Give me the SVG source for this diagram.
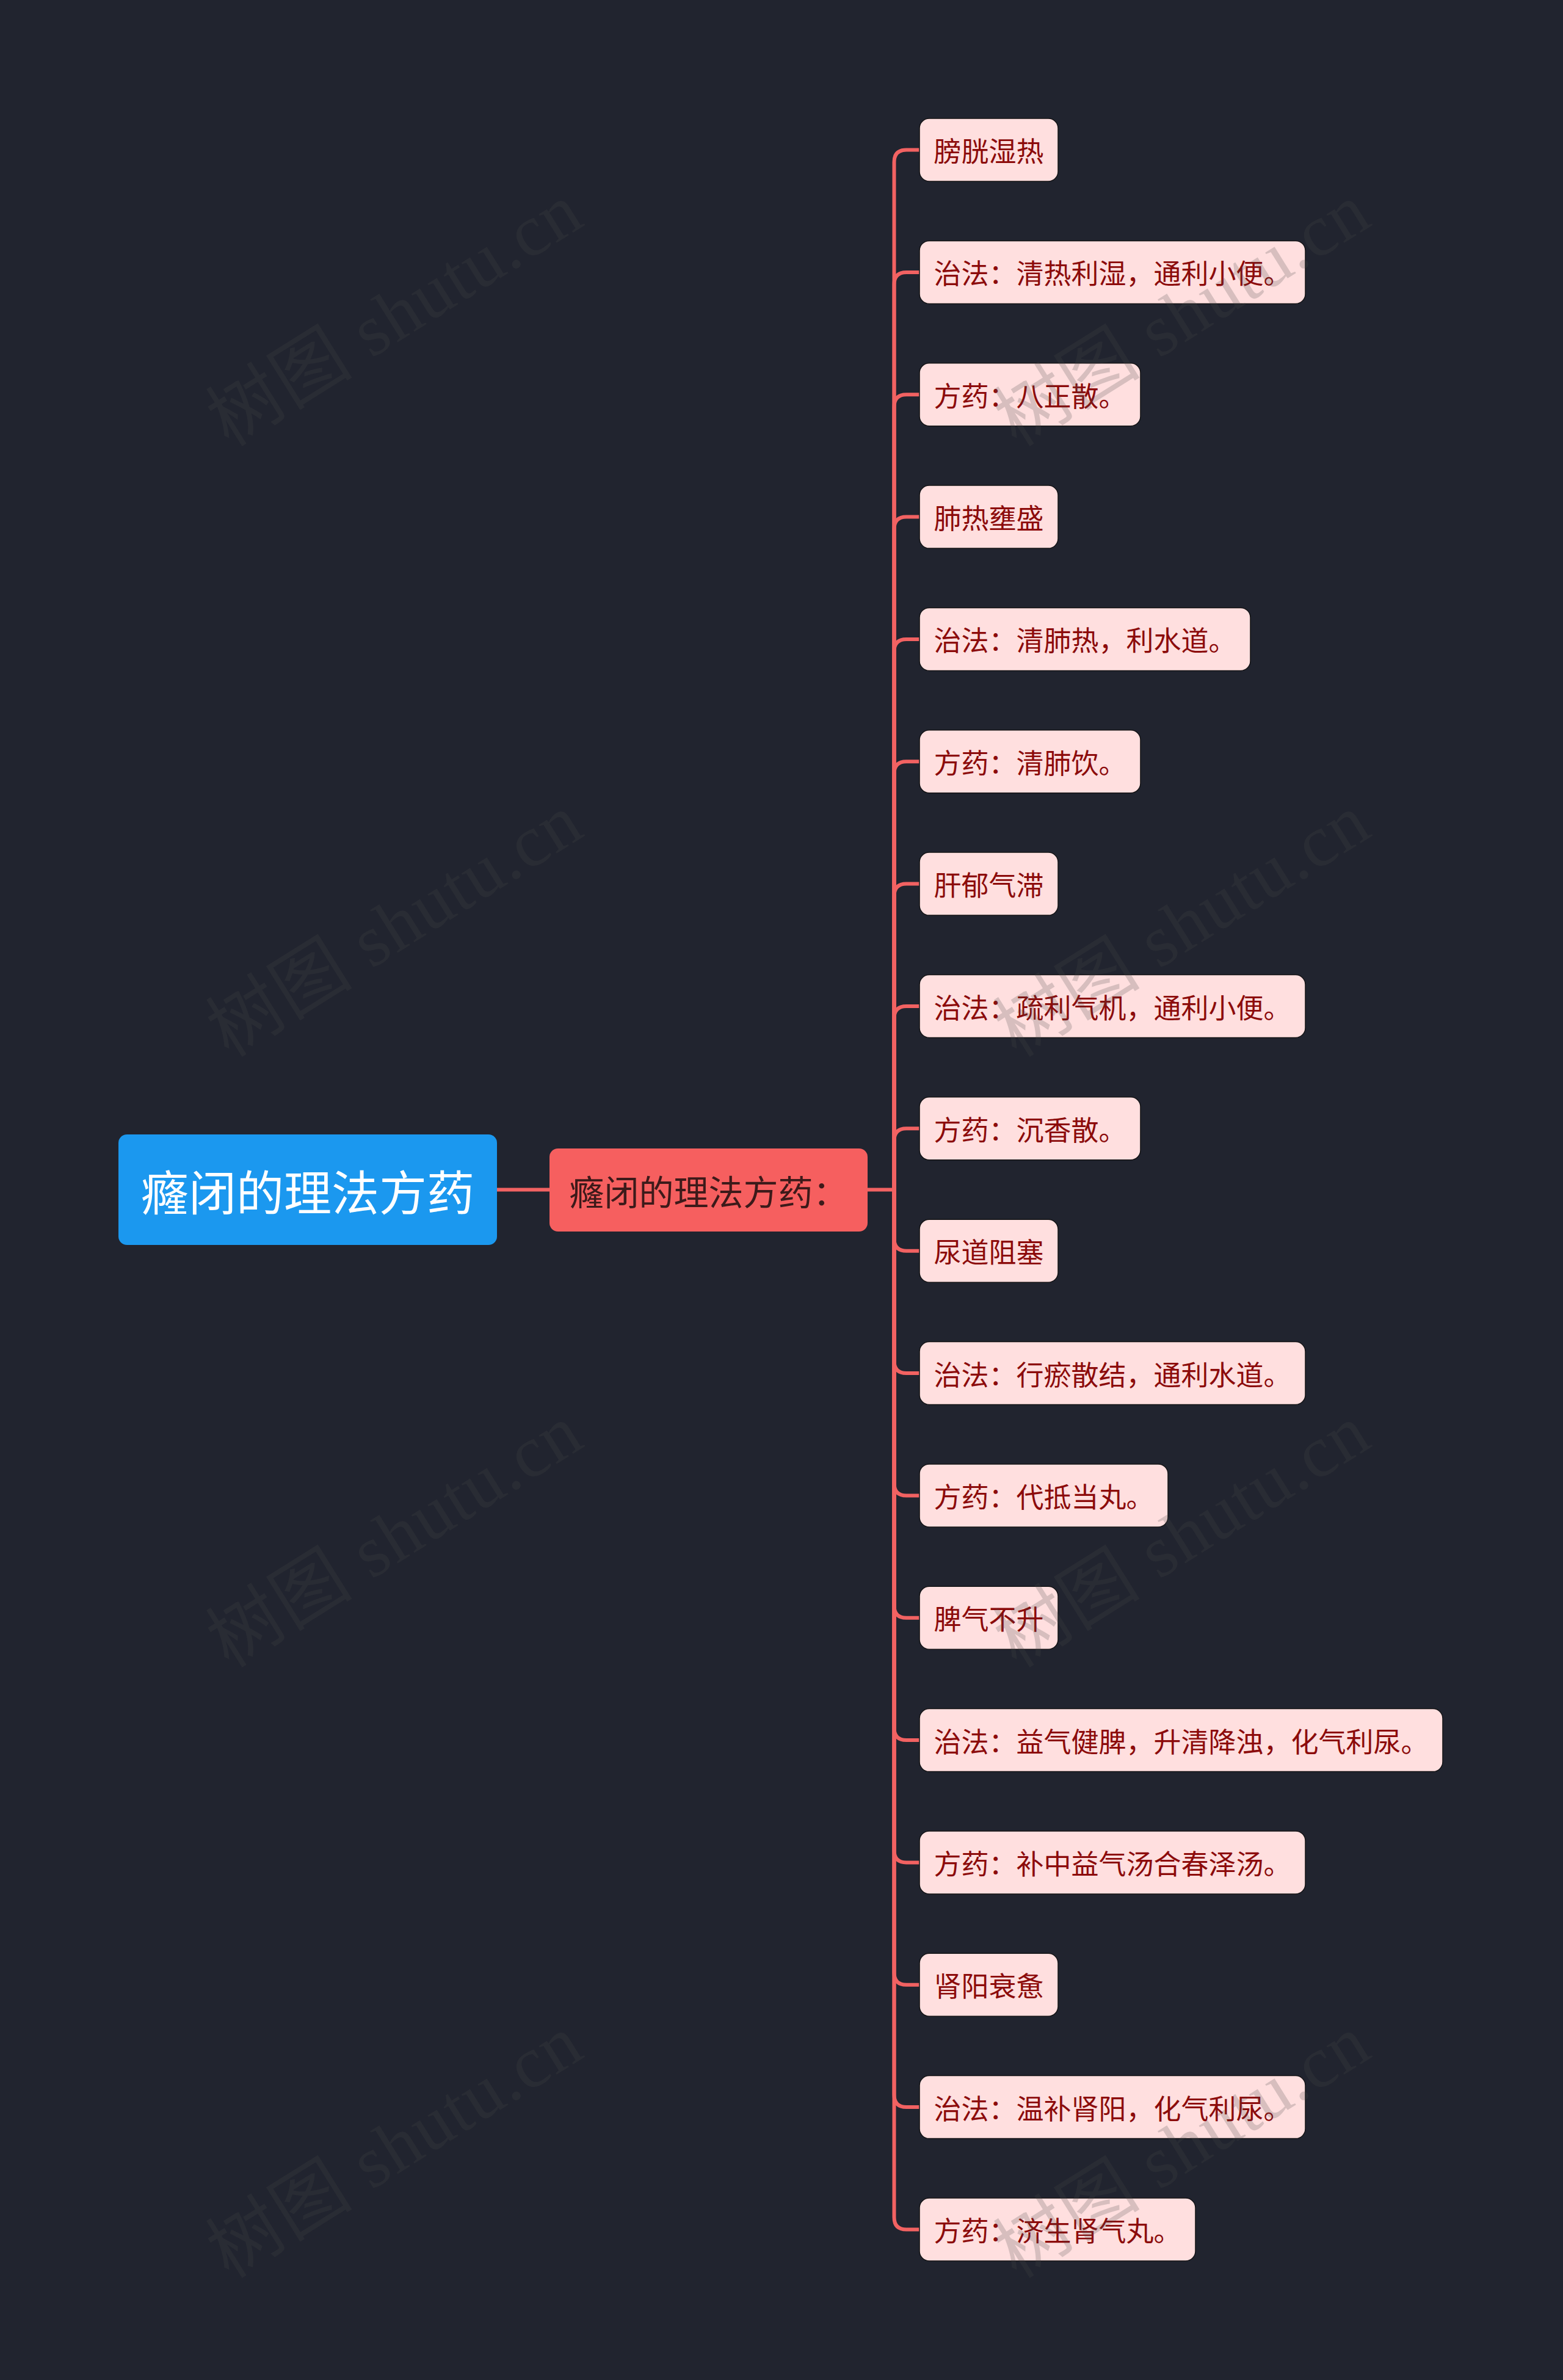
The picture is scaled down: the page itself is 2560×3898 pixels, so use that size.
<svg xmlns="http://www.w3.org/2000/svg" width="2560" height="3898" viewBox="0 0 2560 3898">
<defs>
<style>
.bg{fill:#21242f}
.conn{fill:none;stroke:#f26262;stroke-width:6;stroke-linecap:round}
.leaf rect{fill:#ffdfdf;stroke:#141416;stroke-width:1.5}
.leaf text{fill:#8c0b0b;font-family:"Noto Sans CJK SC","Noto Sans",sans-serif;font-size:45px;dominant-baseline:central}
.root rect{fill:#1b98ef}
.root text{fill:#ffffff;font-family:"Noto Sans CJK SC","Noto Sans",sans-serif;font-size:78px;dominant-baseline:central;text-anchor:middle}
.mid rect{fill:#f65f5f}
.mid text{fill:#3d1a1a;font-family:"Noto Sans CJK SC","Noto Sans",sans-serif;font-size:57px;dominant-baseline:central;text-anchor:middle}
.wm{fill:#4a4a4a;fill-opacity:0.22;font-family:"Liberation Serif","Noto Sans CJK SC",serif;font-size:120px;text-anchor:middle;dominant-baseline:central}
</style>
</defs>
<rect class="bg" x="0" y="0" width="2560" height="3898"/>

<g id="connectors">
<path class="conn" d="M814 1948.5 L900 1948.5"/>
<path class="conn" d="M1421 1948.5 L1464.5 1948.5"/>
<path class="conn" d="M1464.5 1948.5 L1464.5 265.5 Q1464.5 245.5 1484.5 245.5 L1507 245.5"/>
<path class="conn" d="M1464.5 1948.5 L1464.5 465.9 Q1464.5 445.9 1484.5 445.9 L1507 445.9"/>
<path class="conn" d="M1464.5 1948.5 L1464.5 666.2 Q1464.5 646.2 1484.5 646.2 L1507 646.2"/>
<path class="conn" d="M1464.5 1948.5 L1464.5 866.6 Q1464.5 846.6 1484.5 846.6 L1507 846.6"/>
<path class="conn" d="M1464.5 1948.5 L1464.5 1066.9 Q1464.5 1046.9 1484.5 1046.9 L1507 1046.9"/>
<path class="conn" d="M1464.5 1948.5 L1464.5 1267.3 Q1464.5 1247.3 1484.5 1247.3 L1507 1247.3"/>
<path class="conn" d="M1464.5 1948.5 L1464.5 1467.6 Q1464.5 1447.6 1484.5 1447.6 L1507 1447.6"/>
<path class="conn" d="M1464.5 1948.5 L1464.5 1668.0 Q1464.5 1648.0 1484.5 1648.0 L1507 1648.0"/>
<path class="conn" d="M1464.5 1948.5 L1464.5 1868.3 Q1464.5 1848.3 1484.5 1848.3 L1507 1848.3"/>
<path class="conn" d="M1464.5 1948.5 L1464.5 2028.7 Q1464.5 2048.7 1484.5 2048.7 L1507 2048.7"/>
<path class="conn" d="M1464.5 1948.5 L1464.5 2229.0 Q1464.5 2249.0 1484.5 2249.0 L1507 2249.0"/>
<path class="conn" d="M1464.5 1948.5 L1464.5 2429.4 Q1464.5 2449.4 1484.5 2449.4 L1507 2449.4"/>
<path class="conn" d="M1464.5 1948.5 L1464.5 2629.7 Q1464.5 2649.7 1484.5 2649.7 L1507 2649.7"/>
<path class="conn" d="M1464.5 1948.5 L1464.5 2830.1 Q1464.5 2850.1 1484.5 2850.1 L1507 2850.1"/>
<path class="conn" d="M1464.5 1948.5 L1464.5 3030.4 Q1464.5 3050.4 1484.5 3050.4 L1507 3050.4"/>
<path class="conn" d="M1464.5 1948.5 L1464.5 3230.8 Q1464.5 3250.8 1484.5 3250.8 L1507 3250.8"/>
<path class="conn" d="M1464.5 1948.5 L1464.5 3431.1 Q1464.5 3451.1 1484.5 3451.1 L1507 3451.1"/>
<path class="conn" d="M1464.5 1948.5 L1464.5 3631.5 Q1464.5 3651.5 1484.5 3651.5 L1507 3651.5"/>
</g>

<g id="root" class="root">
<rect x="194" y="1858" width="620" height="181" rx="14"/>
<text x="504" y="1948.5">癃闭的理法方药</text>
</g>

<g id="mid" class="mid">
<rect x="900" y="1881" width="521" height="136" rx="14"/>
<text x="1160.5" y="1949">癃闭的理法方药：</text>
</g>

<g id="leaf1" class="leaf"><rect x="1506" y="194" width="227" height="103" rx="16"/><text x="1529.5" y="245.5">膀胱湿热</text></g>
<g id="leaf2" class="leaf"><rect x="1506" y="394.4" width="632" height="103" rx="16"/><text x="1529.5" y="445.9">治法：清热利湿，通利小便。</text></g>
<g id="leaf3" class="leaf"><rect x="1506" y="594.7" width="362" height="103" rx="16"/><text x="1529.5" y="646.2">方药：八正散。</text></g>
<g id="leaf4" class="leaf"><rect x="1506" y="795.1" width="227" height="103" rx="16"/><text x="1529.5" y="846.6">肺热壅盛</text></g>
<g id="leaf5" class="leaf"><rect x="1506" y="995.4" width="542" height="103" rx="16"/><text x="1529.5" y="1046.9">治法：清肺热，利水道。</text></g>
<g id="leaf6" class="leaf"><rect x="1506" y="1195.8" width="362" height="103" rx="16"/><text x="1529.5" y="1247.3">方药：清肺饮。</text></g>
<g id="leaf7" class="leaf"><rect x="1506" y="1396.1" width="227" height="103" rx="16"/><text x="1529.5" y="1447.6">肝郁气滞</text></g>
<g id="leaf8" class="leaf"><rect x="1506" y="1596.5" width="632" height="103" rx="16"/><text x="1529.5" y="1648.0">治法：疏利气机，通利小便。</text></g>
<g id="leaf9" class="leaf"><rect x="1506" y="1796.8" width="362" height="103" rx="16"/><text x="1529.5" y="1848.3">方药：沉香散。</text></g>
<g id="leaf10" class="leaf"><rect x="1506" y="1997.2" width="227" height="103" rx="16"/><text x="1529.5" y="2048.7">尿道阻塞</text></g>
<g id="leaf11" class="leaf"><rect x="1506" y="2197.5" width="632" height="103" rx="16"/><text x="1529.5" y="2249.0">治法：行瘀散结，通利水道。</text></g>
<g id="leaf12" class="leaf"><rect x="1506" y="2397.9" width="407" height="103" rx="16"/><text x="1529.5" y="2449.4">方药：代抵当丸。</text></g>
<g id="leaf13" class="leaf"><rect x="1506" y="2598.2" width="227" height="103" rx="16"/><text x="1529.5" y="2649.7">脾气不升</text></g>
<g id="leaf14" class="leaf"><rect x="1506" y="2798.6" width="857" height="103" rx="16"/><text x="1529.5" y="2850.1">治法：益气健脾，升清降浊，化气利尿。</text></g>
<g id="leaf15" class="leaf"><rect x="1506" y="2998.9" width="632" height="103" rx="16"/><text x="1529.5" y="3050.4">方药：补中益气汤合春泽汤。</text></g>
<g id="leaf16" class="leaf"><rect x="1506" y="3199.3" width="227" height="103" rx="16"/><text x="1529.5" y="3250.8">肾阳衰惫</text></g>
<g id="leaf17" class="leaf"><rect x="1506" y="3399.6" width="632" height="103" rx="16"/><text x="1529.5" y="3451.1">治法：温补肾阳，化气利尿。</text></g>
<g id="leaf18" class="leaf"><rect x="1506" y="3600" width="452" height="103" rx="16"/><text x="1529.5" y="3651.5">方药：济生肾气丸。</text></g>

<g id="watermarks">
<text class="wm" transform="translate(646 516) rotate(-32)" textLength="690" lengthAdjust="spacing">树图 shutu.cn</text>
<text class="wm" transform="translate(646 1516) rotate(-32)" textLength="690" lengthAdjust="spacing">树图 shutu.cn</text>
<text class="wm" transform="translate(646 2516) rotate(-32)" textLength="690" lengthAdjust="spacing">树图 shutu.cn</text>
<text class="wm" transform="translate(646 3516) rotate(-32)" textLength="690" lengthAdjust="spacing">树图 shutu.cn</text>
<text class="wm" transform="translate(1936 516) rotate(-32)" textLength="690" lengthAdjust="spacing">树图 shutu.cn</text>
<text class="wm" transform="translate(1936 1516) rotate(-32)" textLength="690" lengthAdjust="spacing">树图 shutu.cn</text>
<text class="wm" transform="translate(1936 2516) rotate(-32)" textLength="690" lengthAdjust="spacing">树图 shutu.cn</text>
<text class="wm" transform="translate(1936 3516) rotate(-32)" textLength="690" lengthAdjust="spacing">树图 shutu.cn</text>
</g>
</svg>
